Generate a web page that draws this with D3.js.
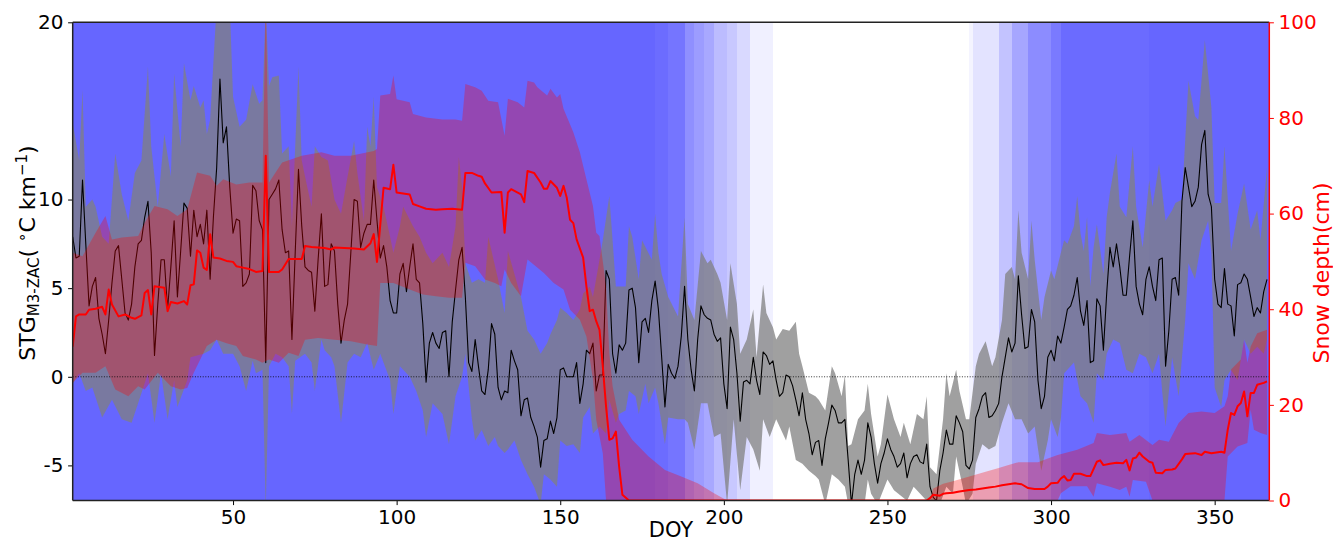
<!DOCTYPE html>
<html><head><meta charset="utf-8">
<script src="https://cdn.jsdelivr.net/npm/d3@7"></script>
<style>
body{margin:0;background:#fff;}
svg{display:block;}
text{font-family:"DejaVu Sans",sans-serif;}
</style>
</head><body>
<svg id="chart" width="1333" height="543"></svg>
<script>
// ---------------- DATA ----------------
// daily mean STG (DOY 1..366)
const stgMean = [
7.9,6.7,6.8,11.1,7.5,4.0,5.1,5.6,3.3,2.4,
1.3,3.2,5.3,7.1,7.4,5.5,3.6,3.2,4.1,6.2,
7.5,7.7,9.0,9.9,7.0,1.2,4.1,6.6,6.6,3.8,
6.2,8.8,4.5,7.1,9.8,9.5,6.8,9.4,7.9,8.6,
7.5,9.4,5.5,9.0,11.8,16.8,13.2,14.1,10.7,8.1,
8.9,8.8,5.1,5.3,5.8,10.8,10.5,8.8,8.3,0.8,
10.0,10.3,10.6,11.1,8.3,7.0,7.1,2.1,7.0,11.7,
8.5,6.2,6.0,5.9,3.7,6.6,9.2,5.1,5.2,7.5,
7.1,4.1,1.9,3.2,4.1,7.0,10.0,9.9,7.3,8.1,
8.6,8.6,11.1,8.8,6.7,7.4,6.2,4.3,3.6,3.6,
5.8,6.4,4.8,6.2,7.5,5.5,5.3,3.0,-0.3,1.9,
2.5,1.9,1.6,2.5,2.6,0.0,3.1,4.9,6.6,7.3,
4.5,0.8,0.3,2.1,0.6,-0.8,-1.0,0.4,3.0,2.4,
-0.6,-1.3,-0.8,-0.9,1.5,0.9,0.4,-2.2,-1.3,-1.2,
-2.3,-2.8,-3.4,-5.1,-3.6,-3.5,-2.5,-3.2,-2.3,0.4,
0.5,0.0,0.0,0.0,0.8,-1.5,-0.4,1.5,1.3,1.9,
-0.8,0.1,0.1,6.0,5.5,1.3,0.2,1.8,1.5,1.9,
4.9,5.0,3.9,0.8,3.1,3.3,2.5,4.3,5.4,3.8,
1.1,-1.7,0.7,0.2,-0.1,0.6,2.3,5.1,2.1,0.4,
-0.8,2.1,4.0,3.5,3.3,3.2,2.4,2.0,2.2,-0.4,
-1.8,2.8,2.1,0.2,-2.5,-0.3,-0.2,-0.4,1.1,-0.2,
-1.0,1.4,1.2,0.7,0.9,-0.2,-1.1,-0.9,0.1,0.0,
-0.5,-1.3,-2.2,-0.9,-2.4,-3.2,-4.4,-3.7,-3.6,-5.0,
-3.5,-2.6,-1.6,-1.9,-2.6,-2.6,-2.4,-4.7,-7.2,-5.5,
-4.7,-5.5,-4.7,-2.6,-3.4,-4.9,-6.0,-4.9,-4.3,-3.5,
-4.1,-4.5,-5.1,-4.9,-4.3,-5.7,-4.9,-4.5,-4.4,-4.8,
-4.9,-3.8,-6.2,-6.8,-7.0,-5.3,-4.3,-3.0,-3.8,-3.8,
-2.2,-2.6,-3.1,-5.0,-5.2,-4.7,-2.3,-1.8,-1.1,-0.9,
-2.3,-2.2,-1.9,-1.5,0.0,1.1,2.2,1.4,1.9,5.7,
3.5,1.6,1.7,3.8,3.1,-0.2,-1.8,-1.1,1.1,1.5,
0.9,2.3,1.9,2.8,3.8,4.0,4.6,5.6,3.7,2.9,
4.3,0.8,0.9,4.4,4.0,1.5,4.7,7.3,6.2,7.5,
6.2,4.6,4.6,6.8,8.8,5.1,4.1,3.5,5.5,6.2,
5.1,4.3,6.6,6.7,0.6,2.6,5.5,5.6,4.6,9.9,
11.8,10.7,9.6,9.9,10.7,13.1,13.9,10.3,9.6,5.5,
4.1,3.9,6.1,4.1,4.0,2.3,5.2,5.3,5.8,5.5,
4.5,3.4,3.9,3.6,4.8,5.5
];

// STG envelope [DOY, value]
const stgHigh = [[1,14.3],[3,12.2],[4,16.2],[5,9.6],[7,10.0],[8,9.6],[10,7.9],[12,7.5],[14,12.6],[16,10.3],[18,8.8],[20,11.5],[22,12.2],[24,17.5],[25,13.0],[27,9.6],[29,13.7],[31,11.3],[32,17.1],[34,13.0],[35,17.7],[37,15.6],[38,16.4],[40,15.2],[41,15.6],[42,13.7],[43,14.5],[45,21],[49,21],[50,15.8],[52,14.1],[54,14.5],[56,16.5],[58,15.4],[59,15.6],[60,21],[61,16.4],[62,16.9],[64,17.0],[65,12.6],[67,13.0],[68,8.5],[70,17.5],[71,12.2],[72,11.3],[74,9.6],[75,13.0],[77,12.4],[79,12.2],[81,10.0],[83,9.2],[85,11.3],[87,13.3],[88,11.5],[90,8.8],[91,14.1],[92,13.0],[93,15.8],[94,10.7],[96,9.6],[98,7.9],[99,7.0],[101,8.5],[102,9.6],[105,8.5],[107,7.9],[109,7.0],[111,6.4],[114,7.0],[116,6.2],[118,8.5],[119,12.4],[120,10.7],[121,6.4],[123,5.3],[125,5.5],[127,5.3],[128,7.9],[131,5.5],[133,3.6],[134,7.1],[136,5.8],[138,4.5],[140,2.6],[142,2.1],[144,1.3],[146,1.9],[147,2.4],[149,3.2],[150,3.9],[152,3.6],[154,3.2],[156,3.8],[157,4.7],[159,5.1],[160,4.5],[162,6.6],[163,7.7],[165,10.2],[166,7.7],[167,5.1],[170,5.1],[171,8.5],[172,7.9],[174,5.5],[175,7.7],[178,6.6],[179,9.2],[180,7.0],[181,5.8],[183,4.5],[186,3.4],[188,9.0],[189,4.1],[191,3.2],[193,7.1],[195,6.4],[196,6.6],[198,5.8],[199,5.3],[201,3.2],[202,6.4],[204,4.1],[205,1.3],[207,2.1],[209,3.8],[210,1.1],[212,5.2],[213,3.6],[215,2.8],[216,2.1],[218,2.7],[220,2.6],[222,3.1],[223,1.3],[224,0.6],[226,-0.9],[228,-1.1],[229,-1.3],[231,-1.9],[233,0.6],[234,0.2],[236,-1.1],[237,0.1],[238,-3.9],[239,-3.8],[241,-2.4],[243,-1.9],[244,-0.4],[245,-2.1],[247,-4.5],[248,-3.8],[250,-1.0],[252,-2.4],[254,-3.4],[255,-2.6],[257,-3.8],[259,-2.1],[261,-2.4],[262,-1.1],[263,-5.1],[265,-5.5],[267,-2.4],[268,0.2],[269,-1.1],[271,0.4],[272,-0.8],[274,-2.4],[275,-2.4],[277,0.6],[278,1.3],[280,2.0],[282,0.6],[283,1.1],[285,3.2],[286,5.8],[288,6.2],[289,5.5],[290,9.4],[291,7.0],[293,5.5],[294,8.8],[295,6.6],[297,3.2],[298,4.5],[300,6.0],[301,5.5],[303,7.0],[304,7.7],[305,7.5],[307,8.5],[308,10.2],[309,8.1],[310,7.1],[311,9.0],[312,5.1],[313,7.3],[314,8.6],[316,5.8],[317,9.0],[318,10.4],[320,12.6],[321,9.6],[323,9.0],[325,13.0],[326,9.6],[328,7.3],[330,11.1],[331,9.6],[333,12.0],[335,8.8],[337,9.4],[338,9.8],[340,10.0],[342,16.7],[344,14.7],[345,14.5],[347,19.0],[349,15.2],[350,9.8],[352,9.8],[353,13.0],[355,7.1],[357,9.2],[359,10.9],[361,8.3],[363,9.4],[364,7.7],[366,11.8]];

const stgLow = [[1,-0.4],[3,0.2],[5,-0.8],[7,-0.6],[10,-2.3],[13,-1.3],[16,-2.4],[19,-2.6],[21,-1.5],[24,0.2],[26,-2.6],[28,0.2],[30,-2.4],[32,-0.2],[33,-1.7],[36,-0.2],[37,1.1],[41,1.3],[43,1.5],[45,2.1],[47,1.3],[50,1.3],[52,0.6],[54,-0.8],[56,0.9],[57,0.2],[59,0.4],[60,-7.5],[61,0.6],[63,1.3],[65,1.1],[67,0.6],[68,-2.1],[69,0.9],[72,1.3],[74,0.8],[75,-0.8],[77,2.1],[78,1.5],[80,1.1],[81,0.6],[83,-2.6],[85,0.8],[87,1.3],[89,1.1],[91,1.9],[93,0.4],[95,1.3],[98,-0.2],[99,-2.1],[101,0.6],[104,0.0],[106,-0.8],[108,-1.9],[109,-3.4],[111,-1.5],[114,-2.1],[116,-3.8],[118,-1.1],[120,0.0],[121,1.3],[123,-2.4],[124,-3.6],[126,-3.0],[128,-3.9],[130,-3.4],[131,-3.9],[133,-4.3],[134,-4.1],[136,-3.6],[138,-4.7],[140,-5.5],[142,-6.2],[144,-7.2],[145,-5.5],[147,-5.8],[149,-6.2],[150,-3.6],[152,-3.9],[154,-3.8],[156,-4.3],[157,-2.3],[159,-1.7],[160,-3.2],[162,-2.8],[164,-3.2],[165,-1.3],[167,-2.6],[168,-2.1],[170,-1.9],[171,-0.8],[173,-1.1],[174,-2.1],[176,-0.4],[177,-1.5],[179,-0.6],[180,-1.5],[182,-3.8],[183,-2.3],[186,-2.4],[188,-2.4],[189,-2.6],[191,-4.1],[193,-1.5],[195,-1.5],[197,-3.4],[199,-3.2],[201,-7.2],[203,-2.4],[205,-6.4],[207,-3.4],[209,-4.1],[211,-5.3],[212,-2.4],[214,-3.4],[216,-2.4],[219,-3.6],[220,-2.8],[222,-4.7],[224,-4.9],[226,-5.3],[228,-5.6],[229,-5.8],[231,-7.2],[233,-5.5],[235,-5.8],[237,-6.2],[238,-7.2],[243,-7.2],[244,-5.8],[245,-6.6],[247,-7.2],[250,-5.8],[252,-6.4],[256,-7.0],[258,-6.2],[261,-6.8],[263,-7.2],[266,-7.2],[268,-6.2],[270,-6.6],[271,-4.5],[273,-6.2],[274,-7.2],[276,-6.6],[277,-4.9],[279,-3.8],[281,-4.1],[283,-3.9],[285,-2.6],[287,-1.5],[289,-2.4],[291,-2.4],[293,-3.2],[295,-2.8],[297,-5.3],[299,-3.6],[300,-2.4],[302,-3.4],[303,-2.4],[304,0.2],[307,0.8],[309,-1.1],[311,-1.5],[313,-2.6],[314,0.2],[316,-0.2],[317,1.3],[319,2.1],[321,1.9],[323,0.4],[325,0.2],[327,1.3],[329,1.1],[331,0.2],[333,1.3],[334,-0.9],[335,-2.8],[337,1.1],[339,-1.1],[341,3.2],[342,6.4],[344,5.5],[346,7.7],[348,8.8],[349,7.0],[350,-0.6],[352,-1.7],[353,-0.2],[355,0.4],[357,-0.2],[359,2.1],[361,1.3],[363,1.7],[365,1.3],[366,2.1]];

// snow depth mean [DOY, cm]
const snowMean = [[1,32.2],[2,38.5],[3,38.9],[5,38.9],[6,39.9],[8,40.1],[10,40.5],[11,38.9],[12,44.1],[13,41.0],[15,38.5],[17,38.9],[19,38.2],[20,38.0],[22,38.7],[23,43.4],[24,44.0],[25,38.9],[26,44.8],[29,44.5],[30,39.6],[31,41.5],[33,41.2],[35,41.7],[36,41.0],[37,45.0],[38,45.2],[39,52.3],[40,51.8],[41,48.7],[42,48.2],[43,55.7],[44,50.8],[46,50.6],[48,50.1],[50,49.9],[51,49.0],[53,48.7],[55,48.4],[57,47.8],[59,48.0],[60,72.1],[61,47.8],[64,47.8],[65,48.3],[67,50.5],[71,50.5],[72,53.2],[74,53.0],[78,52.8],[80,52.5],[81,52.9],[84,52.8],[87,52.7],[90,52.5],[92,53.8],[93,55.7],[94,49.9],[96,65.4],[98,65.1],[99,70.2],[100,64.4],[104,64.0],[105,62.0],[107,61.5],[109,61.0],[112,60.8],[114,60.9],[117,61.0],[120,60.8],[121,68.5],[123,68.5],[125,67.9],[126,67.7],[127,66.3],[129,64.4],[132,64.5],[133,56.0],[134,64.4],[135,65.1],[138,64.0],[139,62.4],[140,68.9],[142,68.5],[144,66.5],[145,65.2],[146,65.2],[147,66.8],[149,65.4],[150,63.7],[151,65.8],[152,63.3],[153,58.7],[154,58.0],[155,54.6],[157,50.8],[158,44.8],[159,39.6],[160,39.9],[161,37.5],[162,35.7],[163,28.1],[164,19.7],[165,12.7],[166,13.0],[167,14.4],[168,7.1],[169,1.2],[171,0],[262,0],[263,0.5],[264,1.2],[266,1.0],[267,1.4],[268,1.5],[270,1.6],[272,1.9],[274,2.1],[275,2.2],[277,2.3],[279,2.5],[281,2.7],[283,2.9],[285,3.2],[287,3.4],[289,3.6],[291,3.4],[293,2.6],[295,2.4],[298,2.4],[299,2.9],[300,3.6],[302,3.7],[303,4.6],[304,5.1],[305,4.2],[306,4.3],[307,5.6],[309,5.6],[311,5.1],[312,5.1],[314,8.1],[315,8.4],[316,7.4],[318,7.7],[320,7.9],[322,7.8],[323,8.5],[324,6.3],[325,8.8],[326,9.0],[327,10.0],[328,9.2],[330,8.1],[331,7.9],[332,5.8],[334,5.7],[335,6.4],[337,6.5],[338,6.7],[340,8.6],[341,9.7],[344,9.9],[346,9.5],[347,10.2],[349,9.9],[352,10.2],[353,10.0],[354,14.8],[355,18.3],[356,17.9],[357,19.7],[358,20.4],[359,22.8],[360,17.6],[361,22.5],[362,22.5],[363,24.2],[365,24.6],[366,24.9]];

// snow depth envelope [DOY, cm]
const snowHigh = [[1,51.8],[4,51.1],[8,56.0],[11,59.5],[13,54.6],[16,55.0],[21,55.3],[23,58.1],[26,61.6],[30,60.9],[33,59.5],[36,60.9],[39,68.6],[43,67.9],[45,65.8],[47,67.2],[51,66.1],[55,66.5],[59,66.5],[60,105],[61,66.5],[65,70.7],[71,72.1],[77,72.8],[81,72.1],[86,72.1],[93,73.1],[94,73.5],[95,84.7],[98,85.0],[99,88.9],[100,83.9],[104,83.3],[105,80.8],[109,80.1],[114,79.7],[118,79.7],[120,79.4],[121,87.1],[124,86.4],[126,85.7],[128,83.6],[131,83.3],[133,76.3],[134,84.0],[137,83.3],[139,82.2],[140,87.8],[142,87.4],[143,86.4],[146,84.7],[147,86.1],[149,84.3],[150,85.0],[151,81.9],[154,77.0],[156,72.8],[158,67.2],[160,61.6],[161,56.0],[162,55.3],[164,44.8],[165,30.8],[166,23.9],[168,16.9],[172,12.7],[177,9.2],[182,6.4],[187,5.0],[192,3.6],[197,1.5],[201,0],[263,0],[264,2.5],[267,3.5],[270,4.0],[275,5.0],[280,6.0],[284,6.8],[287,7.4],[290,8.0],[296,8.0],[299,8.8],[302,9.5],[308,10.6],[313,12.0],[314,14.1],[318,13.7],[323,14.1],[324,12.3],[327,13.7],[331,11.6],[333,12.7],[336,12.3],[339,16.2],[342,18.3],[346,18.6],[350,18.3],[353,19.7],[354,21.8],[355,27.4],[358,29.5],[359,33.6],[360,28.8],[361,32.2],[363,35.0],[366,35.7]];

const snowLow = [[1,24.6],[4,26.7],[8,26.7],[11,28.1],[14,23.2],[18,21.8],[21,23.9],[23,23.2],[27,26.7],[31,23.9],[34,23.2],[36,23.5],[38,26.7],[42,32.3],[45,33.6],[48,32.9],[51,32.3],[53,30.2],[57,29.5],[59,28.8],[61,29.5],[64,28.8],[67,30.9],[70,30.2],[72,33.6],[76,34.0],[81,33.6],[86,33.3],[91,32.6],[94,32.3],[95,45.5],[99,45.5],[104,44.1],[108,43.1],[112,42.7],[116,42.4],[120,42.4],[121,49.7],[124,49.0],[127,46.2],[130,45.5],[132,44.8],[133,48.3],[135,45.5],[138,42.7],[140,50.4],[145,47.6],[148,45.5],[151,44.1],[153,39.9],[156,37.8],[158,34.3],[160,25.3],[161,16.9],[163,9.9],[164,0],[302,0],[303,1.5],[306,3.0],[311,3.0],[313,0.8],[314,3.6],[318,2.9],[321,2.2],[323,2.9],[324,0.8],[325,4.3],[329,3.9],[331,0],[353,0],[354,9.2],[357,11.3],[360,12.0],[361,19.0],[362,14.8],[364,14.1],[366,13.7]];

// background shading: start DOY of each segment and its fraction
const bgDoy  = [1, 179, 183, 188, 191, 194, 197, 201, 204, 208, 215, 275, 276, 284, 288, 293, 300, 303, 330];
const bgFrac = [1, 0.96, 0.90, 0.73, 0.65, 0.57, 0.44, 0.36, 0.25, 0.10, 0, 0.07, 0.18, 0.39, 0.58, 0.75, 0.87, 0.97, 1];

const stgTicks  = [-5, 0, 5, 10, 20];
const snowTicks = [0, 20, 40, 60, 80, 100];
const doyTicks  = [50, 100, 150, 200, 250, 300, 350];

// ---------------- DRAW ----------------
const svg = d3.select("#chart");
const L = 72.7, R = 1269.3, T = 22.3, B = 500.5;
const xMax = 366.7;

const x  = d3.scaleLinear().domain([1, xMax]).range([L, R]);
const yS = d3.scaleLinear().domain([-6.98, 20]).range([B, T]);
const yD = d3.scaleLinear().domain([0, 100]).range([B, T]);

svg.append("defs").append("clipPath").attr("id","plot")
  .append("rect").attr("x",L).attr("y",T).attr("width",R-L).attr("height",B-T);

const g = svg.append("g").attr("clip-path","url(#plot)");

// background (segments snapped to pixel columns to avoid seams)
g.selectAll("rect.bg").data(bgDoy).join("rect")
  .attr("class","bg")
  .attr("x", d => Math.round(x(d)))
  .attr("width", (d,i) => Math.round(x(i < bgDoy.length-1 ? bgDoy[i+1] : xMax)) - Math.round(x(d)))
  .attr("y", T).attr("height", B-T)
  .attr("shape-rendering","crispEdges")
  .attr("fill", "rgb(0,0,255)")
  .attr("fill-opacity", (d,i) => 0.6*bgFrac[i]);

const poly = d3.line().x(d => x(d[0]));

// STG envelope
g.append("path")
  .attr("d", poly.y(d => yS(d[1]))(stgHigh.concat(stgLow.slice().reverse())) + "Z")
  .attr("fill", "#808080").attr("fill-opacity", 0.75);

// STG mean line
g.append("path")
  .attr("d", d3.line().x((d,i) => x(i+1)).y(d => yS(d))(stgMean))
  .attr("fill","none").attr("stroke","#000").attr("stroke-width",1.1)
  .attr("stroke-linejoin","round");

// snow envelope
g.append("path")
  .attr("d", d3.line().x(d => x(d[0])).y(d => yD(d[1]))(snowHigh.concat(snowLow.slice().reverse())) + "Z")
  .attr("fill", "#ff0000").attr("fill-opacity", 0.3);

// snow mean line
g.append("path")
  .attr("d", d3.line().x(d => x(d[0])).y(d => yD(d[1]))(snowMean))
  .attr("fill","none").attr("stroke","#ff0000").attr("stroke-width",2)
  .attr("stroke-linejoin","round");

// zero line
g.append("line")
  .attr("x1",L).attr("x2",R).attr("y1",yS(0)).attr("y2",yS(0))
  .attr("stroke","#000").attr("stroke-width",0.8).attr("stroke-dasharray","1,1.6");

// axes
const fs = 20;
const ax1 = svg.append("g").attr("transform",`translate(${L},0)`)
  .call(d3.axisLeft(yS).tickValues(stgTicks).tickSize(4.6).tickPadding(4.6).tickFormat(d => String(d)));
const ax2 = svg.append("g").attr("transform",`translate(${R},0)`)
  .call(d3.axisRight(yD).tickValues(snowTicks).tickSize(4.6).tickPadding(4.6).tickFormat(d => String(d)));
const ax3 = svg.append("g").attr("transform",`translate(0,${B})`)
  .call(d3.axisBottom(x).tickValues(doyTicks).tickSize(4.6).tickPadding(4.6).tickFormat(d => String(d)));
[ax1,ax2,ax3].forEach(a => {
  a.select(".domain").remove();
  a.selectAll("text").attr("font-size",fs).attr("font-family","DejaVu Sans");
});
ax1.selectAll("line").attr("stroke","#000");
ax1.selectAll("text").attr("fill","#000");
ax2.selectAll("line").attr("stroke","#ff0000");
ax2.selectAll("text").attr("fill","#ff0000");
ax3.selectAll("line").attr("stroke","#000");
ax3.selectAll("text").attr("fill","#000");

// spines
svg.append("line").attr("x1",L).attr("x2",R).attr("y1",T).attr("y2",T).attr("stroke","#222").attr("stroke-width",1.5);
svg.append("line").attr("x1",L).attr("x2",R).attr("y1",B).attr("y2",B).attr("stroke","#222").attr("stroke-width",1.5);
svg.append("line").attr("x1",L).attr("x2",L).attr("y1",T).attr("y2",B).attr("stroke","#222").attr("stroke-width",1.5);
svg.append("line").attr("x1",R).attr("x2",R).attr("y1",T).attr("y2",B).attr("stroke","#ff0000").attr("stroke-width",1.5);

// axis labels
svg.append("text").attr("x", (L+R)/2).attr("y", 537)
  .attr("text-anchor","middle").attr("font-size",21).attr("fill","#000").text("DOY");

const yl = svg.append("text")
  .attr("transform","translate(34.5,253) rotate(-90)")
  .attr("text-anchor","middle").attr("font-size",22).attr("fill","#000");
yl.append("tspan").text("STG");
yl.append("tspan").attr("font-size",15).attr("dy",4).text("M3-ZAC");
yl.append("tspan").attr("dy",-4).text("( ");
yl.append("tspan").attr("font-size",15).attr("dy",-8).text("∘");
yl.append("tspan").attr("dy",8).text("C km");
yl.append("tspan").attr("font-size",15).attr("dy",-8).text("−1");
yl.append("tspan").attr("dy",8).text(")");

svg.append("text")
  .attr("transform","translate(1329,273) rotate(-90)")
  .attr("text-anchor","middle").attr("font-size",22).attr("fill","#ff0000")
  .text("Snow depth(cm)");
</script>
</body></html>
